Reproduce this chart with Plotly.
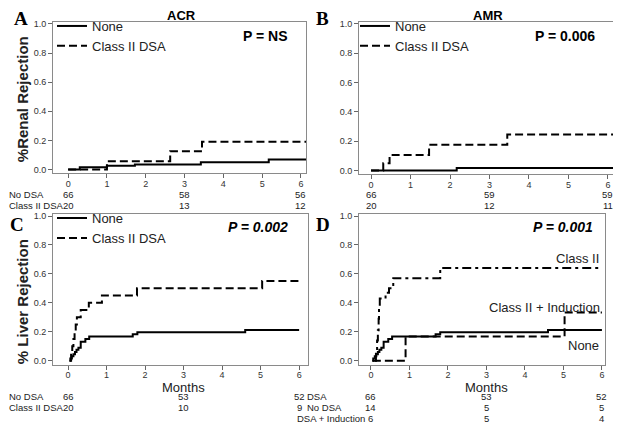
import plotly.graph_objects as go

W, H = 621, 429
OFF = 8  # the page body adds an 8px margin around the figure
FW, FH = W - OFF, H - OFF

# ---------------- data ----------------
months_ticks = [0, 1, 2, 3, 4, 5, 6]
y_ticks = [0.0, 0.2, 0.4, 0.6, 0.8, 1.0]
risk_times = [0, 3, 6]

# A: ACR (renal)
acr_none_t = [0, 0.30, 1.00, 1.72, 3.42, 5.17, 6.13]
acr_none_v = [0, 0.015, 0.025, 0.035, 0.050, 0.068, 0.068]
acr_dsa_t = [0, 1.00, 2.63, 3.45, 6.13]
acr_dsa_v = [0, 0.057, 0.125, 0.190, 0.190]
acr_risk_none = [66, 58, 56]
acr_risk_dsa = [20, 13, 12]

# B: AMR (renal)
amr_none_t = [0, 2.17, 6.13]
amr_none_v = [0, 0.017, 0.017]
amr_dsa_t = [0, 0.31, 0.47, 1.47, 3.45, 6.13]
amr_dsa_v = [0, 0.050, 0.105, 0.175, 0.245, 0.245]
amr_risk_none = [66, 59, 59]
amr_risk_dsa = [20, 12, 11]

# C / D: liver rejection
liver_none_t = [0.03, 0.06, 0.10, 0.14, 0.18, 0.22, 0.27, 0.33, 0.45, 0.55, 1.68, 1.80, 4.60, 6.00]
liver_none_v = [0.00, 0.015, 0.03, 0.045, 0.06, 0.075, 0.09, 0.13, 0.15, 0.167, 0.182, 0.197, 0.212, 0.212]
liver_dsa_t = [0.05, 0.08, 0.11, 0.14, 0.17, 0.20, 0.23, 0.33, 0.54, 0.88, 1.79, 5.04, 6.00]
liver_dsa_v = [0.00, 0.05, 0.10, 0.15, 0.20, 0.25, 0.30, 0.35, 0.40, 0.45, 0.50, 0.55, 0.55]
liver_risk_none = [66, 53, 52]
liver_risk_dsa = [20, 10, 9]

classii_t = [0.10, 0.13, 0.16, 0.18, 0.20, 0.21, 0.23, 0.38, 0.47, 0.58, 1.80, 6.00]
classii_v = [0.00, 0.07, 0.14, 0.21, 0.29, 0.36, 0.43, 0.47, 0.50, 0.57, 0.64, 0.64]
induct_t = [0.05, 0.90, 5.03, 6.00]
induct_v = [0.00, 0.167, 0.333, 0.333]
d_risk_none = [66, 53, 52]
d_risk_classii = [14, 5, 5]
d_risk_induct = [6, 5, 4]


def px(x):
    return (x - OFF) / FW


def py(y):
    return 1 - (y - OFF) / FH


FONT = "Liberation Sans, Arial, sans-serif"
SERIF = "Liberation Serif, Times New Roman, serif"
LW = 2
DASH = "8px,4px"
DASHDOT = "9px,4px,3px,4px"

fig = go.Figure()


def add(t, v, xa, ya, name, dash, legend=None, show=True):
    fig.add_trace(go.Scatter(
        x=t, y=v, mode="lines", line=dict(color="black", width=LW, dash=dash, shape="hv"),
        name=name, xaxis=xa, yaxis=ya, showlegend=show, legend=legend, hoverinfo="skip"))


add(acr_none_t, acr_none_v, "x", "y", "None", "solid", "legend")
add(acr_dsa_t, acr_dsa_v, "x", "y", "Class II DSA", DASH, "legend")
add(amr_none_t, amr_none_v, "x2", "y2", "None", "solid", "legend2")
add(amr_dsa_t, amr_dsa_v, "x2", "y2", "Class II DSA", DASH, "legend2")
add(liver_none_t, liver_none_v, "x3", "y3", "None", "solid", "legend3")
add(liver_dsa_t, liver_dsa_v, "x3", "y3", "Class II DSA", DASH, "legend3")
add(liver_none_t, liver_none_v, "x4", "y4", "None", "solid", show=False)
add(classii_t, classii_v, "x4", "y4", "Class II", DASHDOT, show=False)
add(induct_t, induct_v, "x4", "y4", "Class II + Induction", DASH, show=False)

axis_common = dict(showline=True, mirror=True, linecolor="#8a8a8a", linewidth=1,
                   ticks="outside", ticklen=4, tickcolor="#666", tickwidth=1,
                   tickfont=dict(size=9, color="#333", family=FONT),
                   showgrid=False, zeroline=False)
xcommon = dict(axis_common, tickvals=months_ticks, ticklabelstandoff=-2)
ycommon = dict(axis_common, tickvals=y_ticks, tickformat=".1f")

layout = dict(
    width=FW, height=FH, margin=dict(l=0, r=0, t=0, b=0),
    paper_bgcolor="white", plot_bgcolor="white",
    font=dict(family=FONT, color="black"),
    xaxis=dict(xcommon, domain=[px(53), px(306)], range=[-0.39, 6.13], anchor="y"),
    yaxis=dict(ycommon, domain=[py(172), py(19)], range=[-0.027, 1.0136], anchor="x"),
    xaxis2=dict(xcommon, domain=[px(359), px(613)], range=[-0.304, 6.127], anchor="y2"),
    yaxis2=dict(ycommon, domain=[py(173), py(19)], range=[-0.027, 1.0135], anchor="x2"),
    xaxis3=dict(xcommon, domain=[px(53), px(308)], range=[-0.39, 6.23], anchor="y3"),
    yaxis3=dict(ycommon, domain=[py(365), py(213)], range=[-0.0274, 1.0137], anchor="x3"),
    xaxis4=dict(xcommon, domain=[px(359), px(605)], range=[-0.31, 6.08], anchor="y4"),
    yaxis4=dict(ycommon, domain=[py(365), py(213)], range=[-0.0274, 1.0137], anchor="x4"),
    shapes=[dict(type="line", xref="paper", yref="paper", x0=px(614), x1=px(614),
                 y0=py(213), y1=py(385), line=dict(color="#c8c8c8", width=1))],
)

leg = dict(xanchor="left", yanchor="top", bgcolor="rgba(0,0,0,0)",
           font=dict(size=13, family=FONT, color="#222"), itemwidth=30,
           tracegroupgap=0, borderwidth=0)
layout["legend"] = dict(leg, x=px(52), y=py(8))
layout["legend2"] = dict(leg, x=px(355), y=py(8))
layout["legend3"] = dict(leg, x=px(52), y=py(202))
fig.update_layout(**layout)

ann = []


def text(x, y, s, size=12, bold=False, italic=False, anchor="center", family=FONT, angle=0, color="black"):
    if bold:
        s = "<b>" + s + "</b>"
    if italic:
        s = "<i>" + s + "</i>"
    ann.append(dict(x=px(x), y=py(y), xref="paper", yref="paper", text=s, showarrow=False,
                    xanchor=anchor, yanchor="middle", textangle=angle, borderpad=0,
                    font=dict(size=size, family=family, color=color)))


# titles and panel letters
text(181, 13, "ACR", 13, bold=True)
text(488, 13, "AMR", 13, bold=True)
text(21, 16, "A", 19, bold=True, family=SERIF)
text(322, 16, "B", 19, bold=True, family=SERIF)
text(17, 224, "C", 19, bold=True, family=SERIF)
text(323, 224, "D", 19, bold=True, family=SERIF)
text(22, 97, "%Renal Rejection", 15, bold=True, angle=-90, color="#222")
text(22, 302, "% Liver Rejection", 15, bold=True, angle=-90, color="#222")
text(265, 33, "P = NS", 14, bold=True)
text(565, 33, "P = 0.006", 14, bold=True)
text(258, 226, "P = 0.002", 14, bold=True, italic=True)
text(563, 226, "P = 0.001", 14, bold=True, italic=True)
text(600, 258, "Class II", 13, anchor="right", color="#222")
text(601, 307, "Class II + Induction", 13, anchor="right", color="#222")
text(600, 346, "None", 13, anchor="right", color="#222")

# risk table row labels
RS = 9.5
text(8, 193, "No DSA", RS, anchor="left", color="#222")
text(8, 204, "Class II DSA", RS, anchor="left", color="#222")
text(8, 397, "No DSA", RS, anchor="left", color="#222")
text(8, 408, "Class II DSA", RS, anchor="left", color="#222")
text(328, 397, "DSA", RS, anchor="right", color="#222")
text(343, 408, "No DSA", RS, anchor="right", color="#222")
text(366, 419, "DSA + Induction", RS, anchor="right", color="#222")


def months(xa, ya_px):
    ann.append(dict(x=3, y=py(ya_px), xref=xa, yref="paper", text="Months", showarrow=False,
                    xanchor="center", yanchor="middle", font=dict(size=13, family=FONT, color="#222")))


months("x3", 388)
months("x4", 388)


def risk_row(xa, ypx, vals):
    for t, v in zip(risk_times, vals):
        ann.append(dict(x=t, y=py(ypx), xref=xa, yref="paper", text=str(v), showarrow=False,
                        xanchor="center", yanchor="middle", font=dict(size=RS, family=FONT, color="#222")))


risk_row("x", 193, acr_risk_none)
risk_row("x", 204, acr_risk_dsa)
risk_row("x2", 193, amr_risk_none)
risk_row("x2", 204, amr_risk_dsa)
risk_row("x3", 397, liver_risk_none)
risk_row("x3", 408, liver_risk_dsa)
risk_row("x4", 397, d_risk_none)
risk_row("x4", 408, d_risk_classii)
risk_row("x4", 419, d_risk_induct)

fig.update_layout(annotations=ann)
fig.write_html("out.html")
